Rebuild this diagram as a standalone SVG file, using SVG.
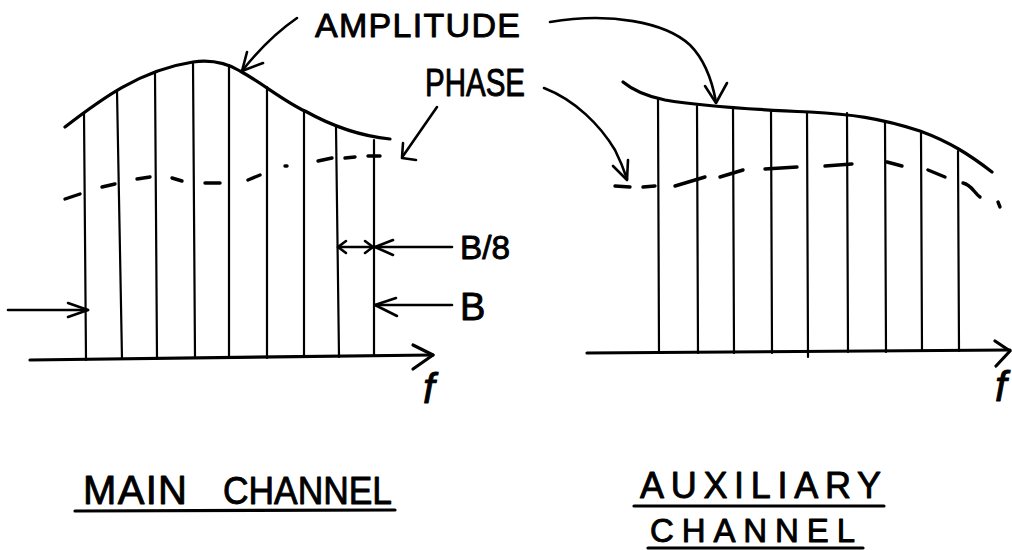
<svg xmlns="http://www.w3.org/2000/svg" width="1012" height="550" viewBox="0 0 1012 550">
<style>
.t{font-family:"Liberation Sans",Arial,sans-serif;fill:#000;stroke:#000;stroke-width:0.9;stroke-linejoin:round;}
.thick{fill:none;stroke:#000;stroke-width:3.2;stroke-linecap:round;stroke-linejoin:round;}
.med{fill:none;stroke:#000;stroke-width:2.6;stroke-linecap:round;stroke-linejoin:round;}
.thin{fill:none;stroke:#000;stroke-width:2.2;stroke-linecap:round;}
.dash{fill:none;stroke:#000;stroke-width:3.4;stroke-linecap:round;}
</style>
<rect width="1012" height="550" fill="#fff"/>

<g id="main-channel">
  <path class="thick" d="M30,360 L433,355"/>
  <path class="thick" d="M413,345 L433,355 L413,369"/>
  <path class="thick" d="M65,127 C100,100 140,70 193,62 C215,59 230,65 240,71 C262,83 285,102 305,111 C330,125 360,136 390,139"/>
  <g class="thin">
    <path d="M84,113 L86,360"/>
    <path d="M117,91 L122,359"/>
    <path d="M155,73 L157,359"/>
    <path d="M193,62 L195,358"/>
    <path d="M229,65 L229,358"/>
    <path d="M267,87 L267,358"/>
    <path d="M304,111 L304,357"/>
    <path d="M336,127 L339,357"/>
    <path d="M374,140 L374,356"/>
  </g>
  <g class="dash">
    <path d="M65,199 L80,194"/>
    <path d="M102,187 L115,184"/>
    <path d="M137,179 L150,177"/>
    <path d="M172,178 L182,181"/>
    <path d="M205,183 L220,183"/>
    <path d="M248,180 L260,175"/>
    <path d="M285,166 L287,166"/>
    <path d="M318,161 L332,158"/>
    <path d="M345,158 L355,157"/>
    <path d="M368,156 L380,156"/>
  </g>
</g>

<g id="aux-channel">
  <path class="thick" d="M587,353 L1010,350"/>
  <path class="thick" d="M995,341 L1010,351 L996,366"/>
  <path class="thick" d="M623,82 C635,92 650,97 665,100 C700,106 740,109 810,112 C850,114 880,118 920,131 C950,142 970,155 992,172"/>
  <g class="thin">
    <path d="M658,98 L659,353"/>
    <path d="M697,106 L698,353"/>
    <path d="M733,108 L734,353"/>
    <path d="M771,110 L772,353"/>
    <path d="M807,112 L808,357"/>
    <path d="M847,113 L848,352"/>
    <path d="M885,122 L886,352"/>
    <path d="M921,133 L922,351"/>
    <path d="M958,151 L959,351"/>
  </g>
  <g class="dash">
    <path d="M615,186 L630,187"/>
    <path d="M643,187 L655,186"/>
    <path d="M675,186 L705,177"/>
    <path d="M720,177 L743,170"/>
    <path d="M765,169 L797,167"/>
    <path d="M825,166 L852,164"/>
    <path d="M887,162 L902,166"/>
    <path d="M928,170 L945,177"/>
    <path d="M963,183 C972,185 974,193 980,197"/>
    <path d="M998,202 L1000,207"/>
  </g>
</g>

<g id="connectors">
  <path class="med" d="M297,18 Q268,38 242,71"/>
  <path class="med" d="M247,52 L242,71 L263,63"/>
  <path class="med" d="M550,22 C610,12 665,22 690,45 C705,60 712,80 716,102"/>
  <path class="med" d="M705,86 L716,103 L727,83"/>
  <path class="med" d="M437,107 L403,156"/>
  <path class="med" d="M403,143 L402,158 L416,160"/>
  <path class="med" d="M544,88 C575,100 600,125 615,150 C620,160 624,170 627,179"/>
  <path class="med" d="M613,166 L627,180 L628,160"/>
  <path class="med" d="M338,247 L373,247"/>
  <path class="med" d="M346,241 L338,247 L346,253"/>
  <path class="med" d="M365,241 L373,247 L365,253"/>
  <path class="med" d="M452,247 L375,247"/>
  <path class="med" d="M393,240 L375,247 L393,255"/>
  <path class="med" d="M452,305 L375,305"/>
  <path class="med" d="M396,298 L375,305 L397,316"/>
  <path class="med" d="M8,310 L88,310"/>
  <path class="med" d="M68,303 L88,310 L68,317"/>
</g>

<g id="label-amplitude"><text class="t" x="315" y="37" font-size="34" textLength="205" lengthAdjust="spacing">AMPLITUDE</text></g>
<g id="label-phase"><text class="t" x="425" y="96" font-size="38" textLength="100" lengthAdjust="spacingAndGlyphs">PHASE</text></g>
<g id="label-b8"><text class="t" x="460" y="259" font-size="34" textLength="50" lengthAdjust="spacingAndGlyphs">B/8</text></g>
<g id="label-b"><text class="t" x="460" y="320" font-size="38">B</text></g>
<g id="label-f-main"><text class="t" x="423" y="403" font-size="42" font-style="italic">f</text></g>
<g id="label-f-aux"><text class="t" x="995" y="401" font-size="42" font-style="italic">f</text></g>
<g id="label-main-channel">
  <text class="t" x="83" y="504" font-size="40" textLength="104" lengthAdjust="spacing">MAIN</text>
  <text class="t" x="223" y="504" font-size="38" textLength="169" lengthAdjust="spacingAndGlyphs">CHANNEL</text>
  <path class="thick" d="M75,511 L395,510"/>
</g>
<g id="label-aux-channel">
  <text class="t" x="640" y="498" font-size="36" textLength="241" lengthAdjust="spacing">AUXILIARY</text>
  <path class="thick" d="M634,506 L884,506"/>
  <text class="t" x="650" y="542" font-size="33" textLength="205" lengthAdjust="spacing">CHANNEL</text>
  <path class="thick" d="M648,548 L863,548"/>
</g>
</svg>
